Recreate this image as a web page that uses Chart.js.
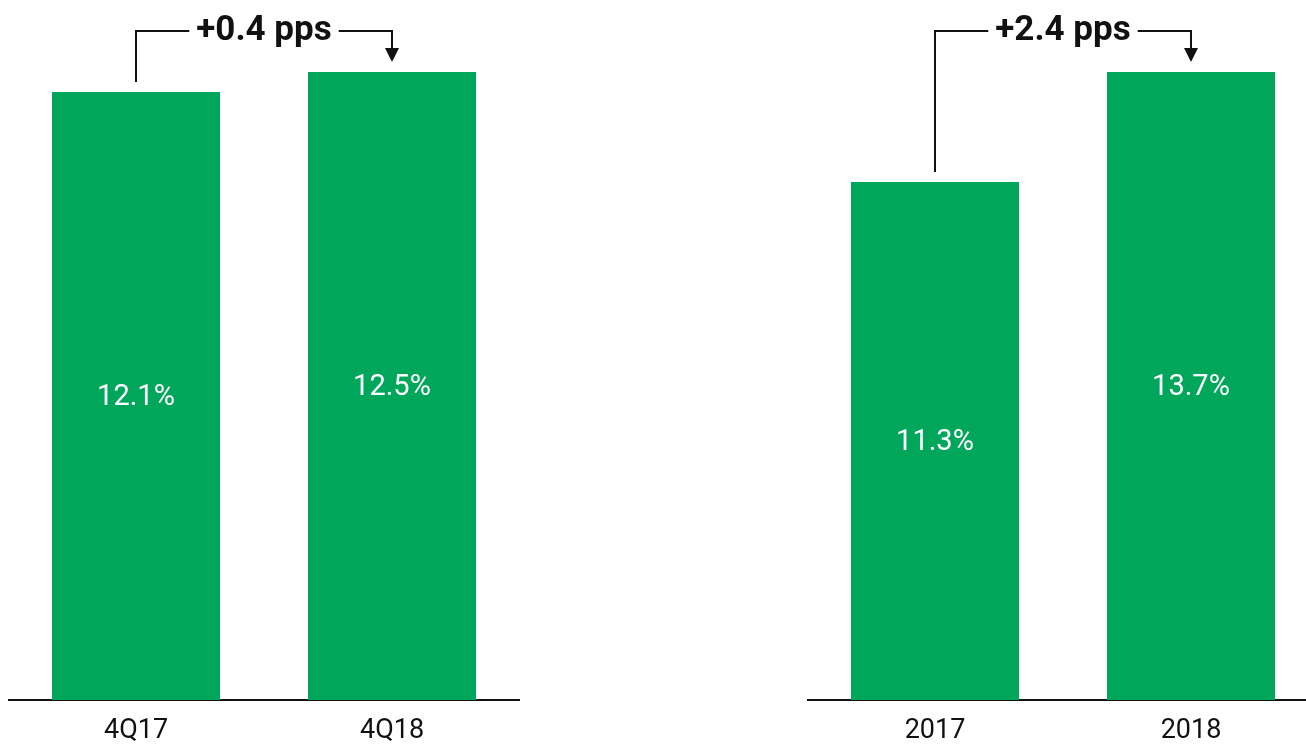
<!DOCTYPE html>
<html>
<head>
<meta charset="utf-8">
<script src="https://cdn.jsdelivr.net/npm/chart.js@4"></script>
<style>
  html, body { margin: 0; padding: 0; background: #fff; overflow: hidden; }
  body { width: 1306px; height: 744px; position: relative; }
  .panel { position: absolute; top: 0; width: 512px; height: 744px; }
</style>
</head>
<body>
<div class="panel" style="left:8px"><canvas id="quarterChart"></canvas></div>
<div class="panel" style="left:807px"><canvas id="yearChart"></canvas></div>
<script>
const quarterLabels = ["4Q17", "4Q18"];
const quarterValues = [12.1, 12.5];
const quarterChange = "+0.4 pps";

const yearLabels = ["2017", "2018"];
const yearValues = [11.3, 13.7];
const yearChange = "+2.4 pps";

const GREEN = "#00a65a";
const FONT = "Roboto, 'Liberation Sans', sans-serif";

// white value labels in the middle of each bar + the change bracket above
const barDecor = {
  id: "barDecor",
  afterDatasetsDraw(chart, args, opts) {
    const ctx = chart.ctx;
    const meta = chart.getDatasetMeta(0);
    ctx.save();
    ctx.fillStyle = "#fff";
    ctx.font = "29px " + FONT;
    ctx.textAlign = "center";
    ctx.textBaseline = "middle";
    meta.data.forEach((bar, i) => {
      const v = chart.data.datasets[0].data[i];
      ctx.fillText(v.toFixed(1) + "%", bar.x, (bar.y + bar.base) / 2 + 2);
    });

    const b0 = meta.data[0], b1 = meta.data[1];
    const yLine = 31;
    ctx.strokeStyle = "#111";
    ctx.fillStyle = "#111";
    ctx.lineWidth = 2;
    ctx.font = "bold 35px " + FONT;
    const mid = (b0.x + b1.x) / 2;
    const tw = ctx.measureText(opts.text).width;
    const gap = 7;
    ctx.beginPath();
    ctx.moveTo(b0.x, b0.y - 10);
    ctx.lineTo(b0.x, yLine);
    ctx.lineTo(mid - tw / 2 - gap, yLine);
    ctx.moveTo(mid + tw / 2 + gap, yLine);
    ctx.lineTo(b1.x, yLine);
    ctx.lineTo(b1.x, b1.y - 22);
    ctx.stroke();
    // arrow head
    ctx.beginPath();
    ctx.moveTo(b1.x - 7, b1.y - 24);
    ctx.lineTo(b1.x + 7, b1.y - 24);
    ctx.lineTo(b1.x, b1.y - 10);
    ctx.closePath();
    ctx.fill();
    ctx.textAlign = "center";
    ctx.textBaseline = "middle";
    ctx.fillText(opts.text, mid, yLine);
    ctx.restore();
  }
};

function makeChart(id, labels, values, change) {
  new Chart(document.getElementById(id), {
    type: "bar",
    data: {
      labels: labels,
      datasets: [{
        data: values,
        backgroundColor: GREEN,
        barPercentage: 1,
        categoryPercentage: 168 / 256
      }]
    },
    options: {
      responsive: true,
      maintainAspectRatio: false,
      animation: false,
      layout: { padding: { top: 72, left: 0, right: 0, bottom: 0 } },
      plugins: {
        legend: { display: false },
        tooltip: { enabled: false },
        barDecor: { text: change }
      },
      scales: {
        x: {
          grid: { display: false },
          border: { display: true, color: "#111", width: 2 },
          ticks: { color: "#111", font: { family: FONT, size: 27 }, padding: 7 },
          afterFit: s => { s.height = 44; }
        },
        y: {
          display: false,
          min: 0,
          max: Math.max(...values)
        }
      }
    },
    plugins: [barDecor]
  });
}

makeChart("quarterChart", quarterLabels, quarterValues, quarterChange);
makeChart("yearChart", yearLabels, yearValues, yearChange);
</script>
</body>
</html>
